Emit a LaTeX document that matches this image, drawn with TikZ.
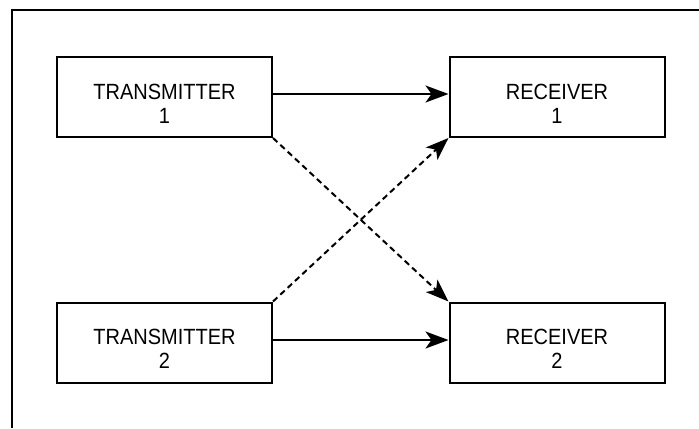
\documentclass[tikz,border=0pt]{standalone}
\usepackage{fontspec}
\setmainfont{Liberation Sans}
\usetikzlibrary{arrows.meta}
\newcommand{\tallt}[1]{\scalebox{1}[1.1]{#1}}
\newcommand{\lowstrut}{\rule{0pt}{28bp}}
\begin{document}
\begin{tikzpicture}[x=1bp,y=-1bp,
  blk/.style={draw,line width=2bp,minimum width=215bp,minimum height=80bp,align=center,inner sep=0pt,
    font=\fontsize{20bp}{24bp}\selectfont},
  conn/.style={line width=2bp,-{Stealth[length=23bp,width=17bp,inset=6bp]}},
  dconn/.style={conn,dash pattern=on 6bp off 4bp}]
\useasboundingbox (0,0) rectangle (699,428);
\draw[line width=2.5bp] (12,428) -- (12,10) -- (699,10);
\node[blk] (T1) at (164.5,97) {\lowstrut\tallt{TRANSMITTER}\\\tallt{1}};
\node[blk] (R1) at (557,97) {\lowstrut\tallt{RECEIVER}\\\tallt{1}};
\node[blk] (T2) at (164.5,342.5) {\lowstrut\tallt{TRANSMITTER}\\\tallt{2}};
\node[blk] (R2) at (557,342.5) {\lowstrut\tallt{RECEIVER}\\\tallt{2}};
\draw[conn] ([yshift=3bp]T1.east) -- ([yshift=3bp]R1.west);
\draw[conn] ([yshift=2.5bp]T2.east) -- ([yshift=2.5bp]R2.west);
\draw[dconn] (T1.south east) -- (R2.north west);
\draw[dconn] (T2.north east) -- (R1.south west);
\end{tikzpicture}
\end{document}
